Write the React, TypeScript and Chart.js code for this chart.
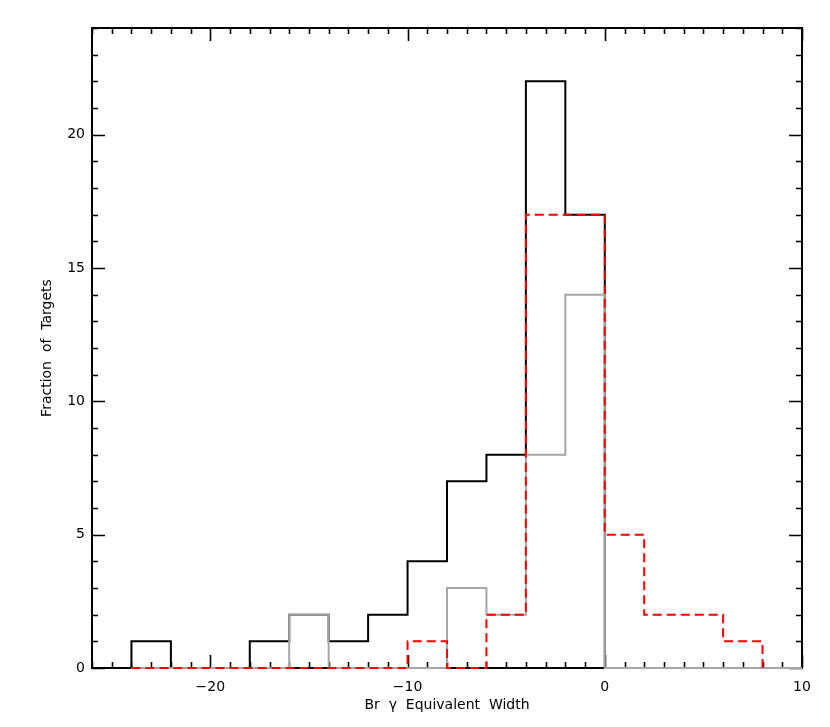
import React, { useEffect, useRef } from 'react';
import { Chart, registerables } from 'chart.js';

Chart.register(...registerables);

// Histogram bin edges (width 2) and counts per bin
const binEdges = [-24, -22, -20, -18, -16, -14, -12, -10, -8, -6, -4, -2, 0, 2, 4, 6, 8];
const allCounts = [1, 0, 0, 1, 2, 1, 2, 4, 7, 8, 22, 17, 0, 0, 0, 0];
const grayCounts = [0, 0, 0, 0, 2, 0, 0, 0, 3, 2, 8, 14, 0, 0, 0, 0];
const redCounts = [0, 0, 0, 0, 0, 0, 0, 1, 0, 2, 17, 17, 5, 2, 2, 1];

const xRange = [-26, 10];
const yRange = [0, 24];
const xTickLabels = [-20, -10, 0, 10];
const yTickLabels = [0, 5, 10, 15, 20];

const xTitle = 'Br  \u03b3  Equivalent  Width';
const yTitle = 'Fraction  of  Targets';

function stepPoints(counts: number[], endX?: number) {
  const pts: { x: number; y: number }[] = [{ x: binEdges[0], y: 0 }];
  counts.forEach((c, i) => pts.push({ x: binEdges[i], y: c }));
  pts.push({ x: binEdges[binEdges.length - 1], y: 0 });
  if (endX !== undefined) pts.push({ x: endX, y: 0 });
  return pts;
}

const framePlugin = {
  id: 'idlFrame',
  beforeDatasetsDraw(chart: any) {
    const { ctx, chartArea: a, scales } = chart;
    const x = scales.x;
    const y = scales.y;
    ctx.save();
    ctx.strokeStyle = '#000';
    ctx.lineWidth = 1.6;
    ctx.beginPath();
    for (let v = Math.ceil(x.min); v <= x.max; v++) {
      const px = Math.round(x.getPixelForValue(v)) + 0.5;
      const len = v % 10 === 0 ? 13 : 6;
      ctx.moveTo(px, a.bottom);
      ctx.lineTo(px, a.bottom - len);
      ctx.moveTo(px, a.top);
      ctx.lineTo(px, a.top + len);
    }
    for (let v = Math.ceil(y.min); v <= y.max; v++) {
      const py = Math.round(y.getPixelForValue(v)) + 0.5;
      const len = v % 5 === 0 ? 13 : 6;
      ctx.moveTo(a.left, py);
      ctx.lineTo(a.left + len, py);
      ctx.moveTo(a.right, py);
      ctx.lineTo(a.right - len, py);
    }
    ctx.stroke();
    ctx.lineWidth = 2;
    ctx.strokeRect(a.left, a.top, a.right - a.left, a.bottom - a.top);
    ctx.restore();
  },
};

const fmt = (v: number) => (v < 0 ? '\u2212' + Math.abs(v) : String(v));

export default function App() {
  const ref = useRef<HTMLCanvasElement | null>(null);

  useEffect(() => {
    if (!ref.current) return;
    // Chart.js draws the first dataset on top, so the red one is listed first.
    const chart = new Chart(ref.current, {
      type: 'scatter',
      data: {
        datasets: [
          {
            data: stepPoints(redCounts),
            showLine: true,
            stepped: 'before',
            borderColor: '#ff0000',
            borderWidth: 2,
            borderDash: [9, 5],
            pointRadius: 0,
            fill: false,
            clip: 5,
          } as any,
          {
            data: stepPoints(grayCounts, xRange[1]),
            showLine: true,
            stepped: 'before',
            borderColor: '#a6a6a6',
            borderWidth: 2,
            pointRadius: 0,
            fill: false,
            clip: 5,
          } as any,
          {
            data: stepPoints(allCounts, xRange[1]),
            showLine: true,
            stepped: 'before',
            borderColor: '#000000',
            borderWidth: 2,
            pointRadius: 0,
            fill: false,
            clip: 5,
          } as any,
        ],
      },
      options: {
        responsive: false,
        animation: false,
        layout: { padding: { left: 0, top: 28, right: 28, bottom: 0 } },
        plugins: {
          legend: { display: false },
          tooltip: { enabled: false },
        },
        scales: {
          x: {
            type: 'linear',
            min: xRange[0],
            max: xRange[1],
            grid: { display: false, drawTicks: false },
            border: { display: false },
            afterBuildTicks: (scale: any) => {
              scale.ticks = xTickLabels.map((v) => ({ value: v }));
            },
            afterFit: (scale: any) => {
              scale.height = 59;
            },
            ticks: {
              autoSkip: false,
              maxRotation: 0,
              padding: 11,
              color: '#000',
              font: { family: 'DejaVu Sans', size: 14 },
              callback: (v: any) => fmt(Number(v)),
            },
            title: {
              display: true,
              text: xTitle,
              color: '#000',
              font: { family: 'DejaVu Sans', size: 14 },
              padding: { top: 13, bottom: 13 },
            },
          },
          y: {
            type: 'linear',
            min: yRange[0],
            max: yRange[1],
            grid: { display: false, drawTicks: false },
            border: { display: false },
            afterBuildTicks: (scale: any) => {
              scale.ticks = yTickLabels.map((v) => ({ value: v }));
            },
            afterFit: (scale: any) => {
              scale.width = 92;
            },
            ticks: {
              autoSkip: false,
              padding: 7,
              color: '#000',
              font: { family: 'DejaVu Sans', size: 14 },
              callback: (v: any) => fmt(Number(v)),
            },
            title: {
              display: true,
              text: yTitle,
              color: '#000',
              font: { family: 'DejaVu Sans', size: 14 },
              padding: { top: 39, bottom: 39 },
            },
          },
        },
      },
      plugins: [framePlugin],
    } as any);
    return () => chart.destroy();
  }, []);

  return (
    <div style={{ position: 'absolute', left: 0, top: 0, width: 830, height: 727, background: '#fff' }}>
      <canvas ref={ref} width={830} height={727} style={{ width: 830, height: 727, display: 'block' }} />
    </div>
  );
}
